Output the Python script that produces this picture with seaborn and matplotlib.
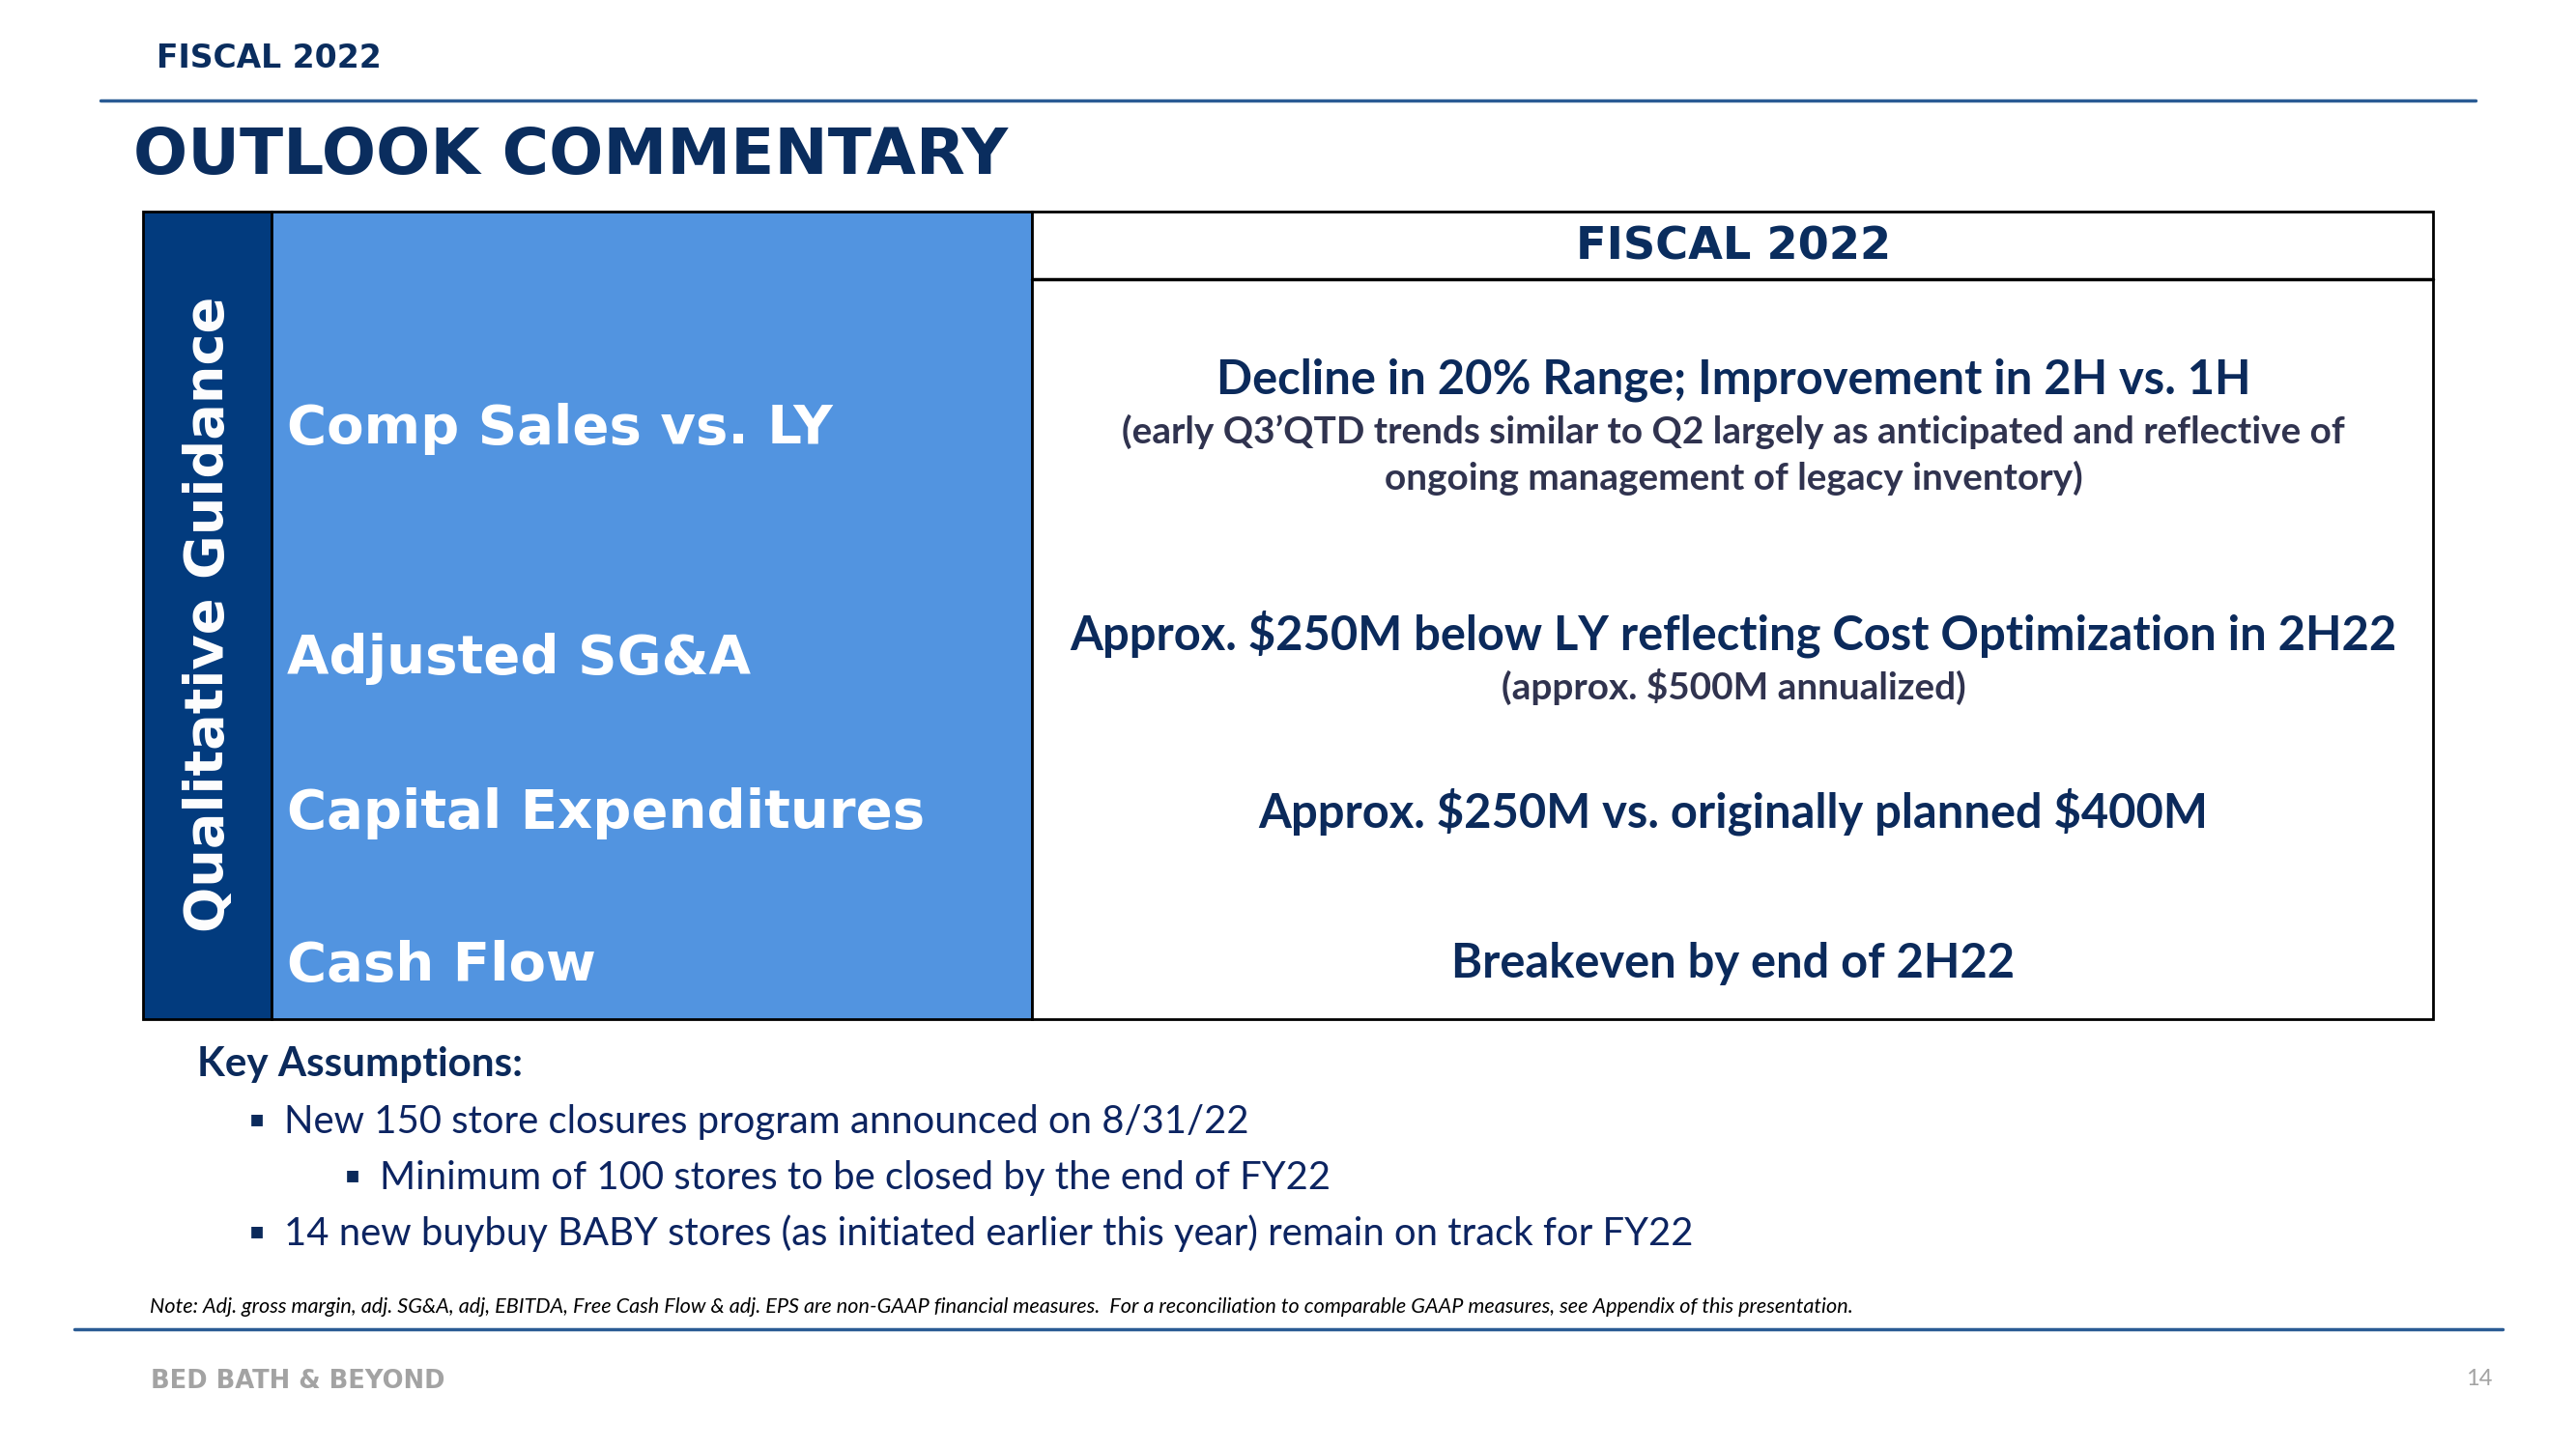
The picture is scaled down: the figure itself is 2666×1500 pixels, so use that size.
import seaborn as sns
from matplotlib import pyplot as plt
from matplotlib.patches import Rectangle

# slide content
SLIDE_TAG = "FISCAL 2022"
TITLE = "OUTLOOK COMMENTARY"
SIDE_LABEL = "Qualitative Guidance"
COLUMN_HEADER = "FISCAL 2022"
ROW_LABELS = ["Comp Sales vs. LY", "Adjusted SG&A", "Capital Expenditures", "Cash Flow"]
ROW_MAIN = [
    "Decline in 20% Range; Improvement in 2H vs. 1H",
    "Approx. $250M below LY reflecting Cost Optimization in 2H22",
    "Approx. $250M vs. originally planned $400M",
    "Breakeven by end of 2H22",
]
ROW_SUB = [
    "(early Q3\u2019QTD trends similar to Q2 largely as anticipated and reflective of\nongoing management of legacy inventory)",
    "(approx. $500M annualized)",
    "",
    "",
]
ASSUMPTIONS_TITLE = "Key Assumptions:"
ASSUMPTIONS = [
    "New 150 store closures program announced on 8/31/22",
    "Minimum of 100 stores to be closed by the end of FY22",
    "14 new buybuy BABY stores (as initiated earlier this year) remain on track for FY22",
]
ASSUMPTION_LEVEL = [0, 1, 0]
NOTE = ("Note: Adj. gross margin, adj. SG&A, adj, EBITDA, Free Cash Flow & adj. EPS are non-GAAP financial "
        "measures.  For a reconciliation to comparable GAAP measures, see Appendix of this presentation.")
FOOTER = "BED BATH & BEYOND"
PAGE = "14"

NAVY = "#0A2D5E"
LINE = "#2A5B94"
DARK_COL = "#023B7E"
LIGHT_COL = "#5294E0"
BODY = "#0B2A5B"
SUB = "#30334F"
GREY = "#A3A3A3"

GEO = ["DejaVu Sans"]
HUM = ["Lato", "DejaVu Sans"]

W, H = 2666, 1500
sns.set_theme(style="white")
plt.rcParams["font.family"] = HUM

fig = plt.figure(figsize=(W / 100, H / 100), dpi=100)
ax = fig.add_axes([0, 0, 1, 1])
ax.set_xlim(0, W)
ax.set_ylim(H, 0)
ax.axis("off")
renderer = fig.canvas.get_renderer()


def fitted_size(s, width, vertical=False, **kw):
    """font size that makes the text s span `width` pixels"""
    t = ax.text(0, 0, s, fontsize=20, parse_math=False, **kw)
    bb = t.get_window_extent(renderer)
    t.remove()
    span = bb.height if vertical else bb.width
    return 20 * width / span


def put(x, y, s, **kw):
    return ax.text(x, y, s, parse_math=False, **kw)


# header
geo_kw = dict(family=GEO, fontweight="bold")
put(162, 60, SLIDE_TAG, fontsize=fitted_size(SLIDE_TAG, 233, **geo_kw), color=NAVY, va="center", **geo_kw)
ax.plot([104, 2562], [104, 104], color=LINE, lw=2.5)
put(138, 162, TITLE, fontsize=fitted_size(TITLE, 903, **geo_kw), color=NAVY, va="center", **geo_kw)

# table blocks
top, bot = 219, 1055
x0, x1, x2, x3 = 148, 281, 1068, 2518
ax.add_patch(Rectangle((x0, top), x1 - x0, bot - top, fc=DARK_COL, ec="black", lw=2))
ax.add_patch(Rectangle((x1, top), x2 - x1, bot - top, fc=LIGHT_COL, ec="black", lw=2))
ax.add_patch(Rectangle((x2, top), x3 - x2, bot - top, fc="white", ec="black", lw=2))
ax.plot([x2, x3], [289, 289], color="black", lw=2.5)

side_fs = fitted_size(SIDE_LABEL, 660, vertical=True, rotation=90, **geo_kw)
put((x0 + x1) / 2 + 2, 636, SIDE_LABEL, fontsize=side_fs, color="white",
    rotation=90, ha="center", va="center", **geo_kw)
put(1794, 256, COLUMN_HEADER, fontsize=fitted_size(COLUMN_HEADER, 326, **geo_kw), color=NAVY,
    ha="center", va="center", **geo_kw)

label_fs = fitted_size(ROW_LABELS[2], 661, **geo_kw)
main_fs = fitted_size(ROW_MAIN[1], 1372, fontweight="bold")
sub_fs = fitted_size(ROW_SUB[0].split("\n")[0], 1267, fontweight="bold")

label_y = [444, 682, 842, 1000]
main_y = [393, 656, 840, 998]
cx = 1794
for i, label in enumerate(ROW_LABELS):
    put(297, label_y[i], label, fontsize=label_fs, color="white", va="center", **geo_kw)
    put(cx, main_y[i], ROW_MAIN[i], fontweight="bold", fontsize=main_fs, color=BODY,
        ha="center", va="center")
    if ROW_SUB[i]:
        put(cx, main_y[i] + 36, ROW_SUB[i], fontweight="bold", fontsize=sub_fs, color=SUB,
            ha="center", va="top", linespacing=1.4)

# key assumptions
put(204, 1102, ASSUMPTIONS_TITLE, fontweight="bold", color=BODY, va="center",
    fontsize=fitted_size(ASSUMPTIONS_TITLE, 337, fontweight="bold"))
item_fs = fitted_size(ASSUMPTIONS[2], 1459)
for i, item in enumerate(ASSUMPTIONS):
    y = 1161 + 58 * i
    bx = 294 + 99 * ASSUMPTION_LEVEL[i]
    put(bx - 36, y - 3, "\u25aa", fontsize=17, color=BODY, va="center", family=["DejaVu Sans"])
    put(bx, y, item, fontsize=item_fs, color="#0C2461", va="center")

put(155, 1353, NOTE, fontsize=fitted_size(NOTE, 1761, style="italic"), style="italic",
    color="black", va="center")
ax.plot([77, 2590], [1376, 1376], color=LINE, lw=2.5)

put(156, 1430, FOOTER, fontsize=fitted_size(FOOTER, 304, **geo_kw), color=GREY, va="center", **geo_kw)
put(2579, 1428, PAGE, fontsize=17, color=GREY, va="center", ha="right")

fig.savefig("out.png", dpi=100)
